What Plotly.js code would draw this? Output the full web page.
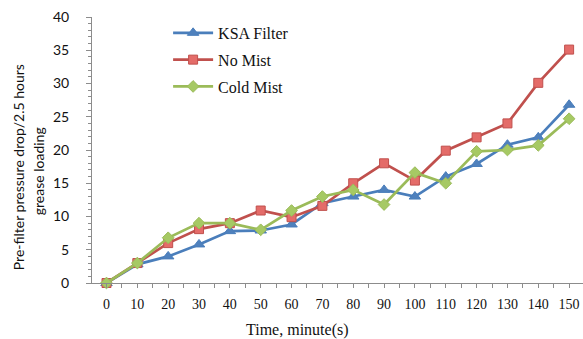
<!DOCTYPE html>
<html>
<head>
<meta charset="utf-8">
<script src="https://cdn.plot.ly/plotly-3.0.1.min.js"></script>
<style>html,body{margin:0;padding:0;background:#fff;}#chart{width:583px;height:339px;}</style>
</head>
<body>
<div id="chart"></div>
<script>
var timeMinutes = [0, 10, 20, 30, 40, 50, 60, 70, 80, 90, 100, 110, 120, 130, 140, 150];
var ksaFilter = [0, 2.8, 4.0, 5.8, 7.8, 7.9, 8.8, 12.0, 13.0, 14.0, 13.0, 16.0, 17.9, 20.8, 21.9, 26.8];
var noMist    = [0, 3.0, 6.0, 8.1, 9.0, 10.9, 9.9, 11.6, 15.0, 18.0, 15.4, 19.9, 21.9, 24.0, 30.1, 35.1];
var coldMist  = [0, 3.0, 6.8, 9.0, 9.0, 8.0, 10.9, 13.0, 14.0, 11.8, 16.6, 15.0, 19.8, 20.0, 20.7, 24.7];
var seriesNames = ['KSA Filter', 'No Mist', 'Cold Mist'];
var xTickLabels = ['0','10','20','30','40','50','60','70','80','90','100','110','120','130','140','150'];
var yTickValues = [0, 5, 10, 15, 20, 25, 30, 35, 40];

var serif = 'Liberation Serif, DejaVu Serif, serif';
var sans = 'Lato, Liberation Sans, sans-serif';

function tr(y, name, lineColor, fillColor, symbol, size, group) {
  return {
    x: timeMinutes, y: y, name: name, type: 'scatter', mode: 'lines+markers',
    legendgroup: group, cliponaxis: false,
    line: {color: lineColor, width: 2.7},
    marker: {symbol: symbol, size: size, color: fillColor, line: {color: lineColor, width: 1}}
  };
}

var data = [
  tr(ksaFilter, seriesNames[0], '#4A7EBB', '#4F81BD', 'triangle-up', 10, 'a'),
  tr(noMist, seriesNames[1], '#C0504D', '#E46C69', 'square', 9, 'b'),
  tr(coldMist, seriesNames[2], '#9BBB59', '#A6C964', 'diamond', 9, 'c')
];

var axisColor = '#8C8C8C';
var layout = {
  width: 583, height: 339,
  margin: {l: 92, r: 0, t: 17, b: 56, pad: 0},
  paper_bgcolor: '#fff', plot_bgcolor: '#fff',
  showlegend: true,
  legend: {x: 0.155, y: 1.004, xanchor: 'left', yanchor: 'top', bgcolor: 'rgba(0,0,0,0)',
           font: {family: serif, size: 16, color: '#111'}, tracegroupgap: 3, itemwidth: 40},
  xaxis: {
    range: [-4.7, 154.5], showgrid: false, zeroline: false,
    showline: true, linecolor: axisColor, linewidth: 1,
    tickmode: 'array', tickvals: timeMinutes, ticktext: xTickLabels,
    ticks: 'outside', ticklen: 4, tickcolor: axisColor,
    minor: {tickmode: 'linear', tick0: 5, dtick: 10, ticks: 'outside', ticklen: 4, tickcolor: axisColor},
    tickfont: {family: serif, size: 14, color: '#111'}, ticklabelstandoff: 4
  },
  yaxis: {
    range: [0, 40], showgrid: false, zeroline: false,
    showline: true, linecolor: axisColor, linewidth: 1,
    tickmode: 'array', tickvals: yTickValues,
    ticks: 'outside', ticklen: 5, tickcolor: axisColor,
    minor: {tickmode: 'linear', tick0: 0, dtick: 1, ticks: 'outside', ticklen: 3, tickcolor: axisColor},
    tickfont: {family: sans, size: 14, color: '#111'}, ticklabelstandoff: 14
  },
  annotations: [
    {text: 'Pre-filter pressure drop/2.5 hours', textangle: -90,
     xref: 'paper', yref: 'paper', x: -0.151, y: 0.435, xanchor: 'center', yanchor: 'middle',
     showarrow: false, font: {family: sans, size: 14, color: '#111'}},
    {text: 'grease loading', textangle: -90,
     xref: 'paper', yref: 'paper', x: -0.11, y: 0.42, xanchor: 'center', yanchor: 'middle',
     showarrow: false, font: {family: sans, size: 14, color: '#111'}},
    {text: 'Time, minute(s)', xref: 'paper', yref: 'paper', x: 0.418, y: -0.175,
     xanchor: 'center', yanchor: 'middle', showarrow: false,
     font: {family: serif, size: 16, color: '#111'}}
  ]
};

Plotly.newPlot('chart', data, layout, {displayModeBar: false, staticPlot: true});
</script>
</body>
</html>
